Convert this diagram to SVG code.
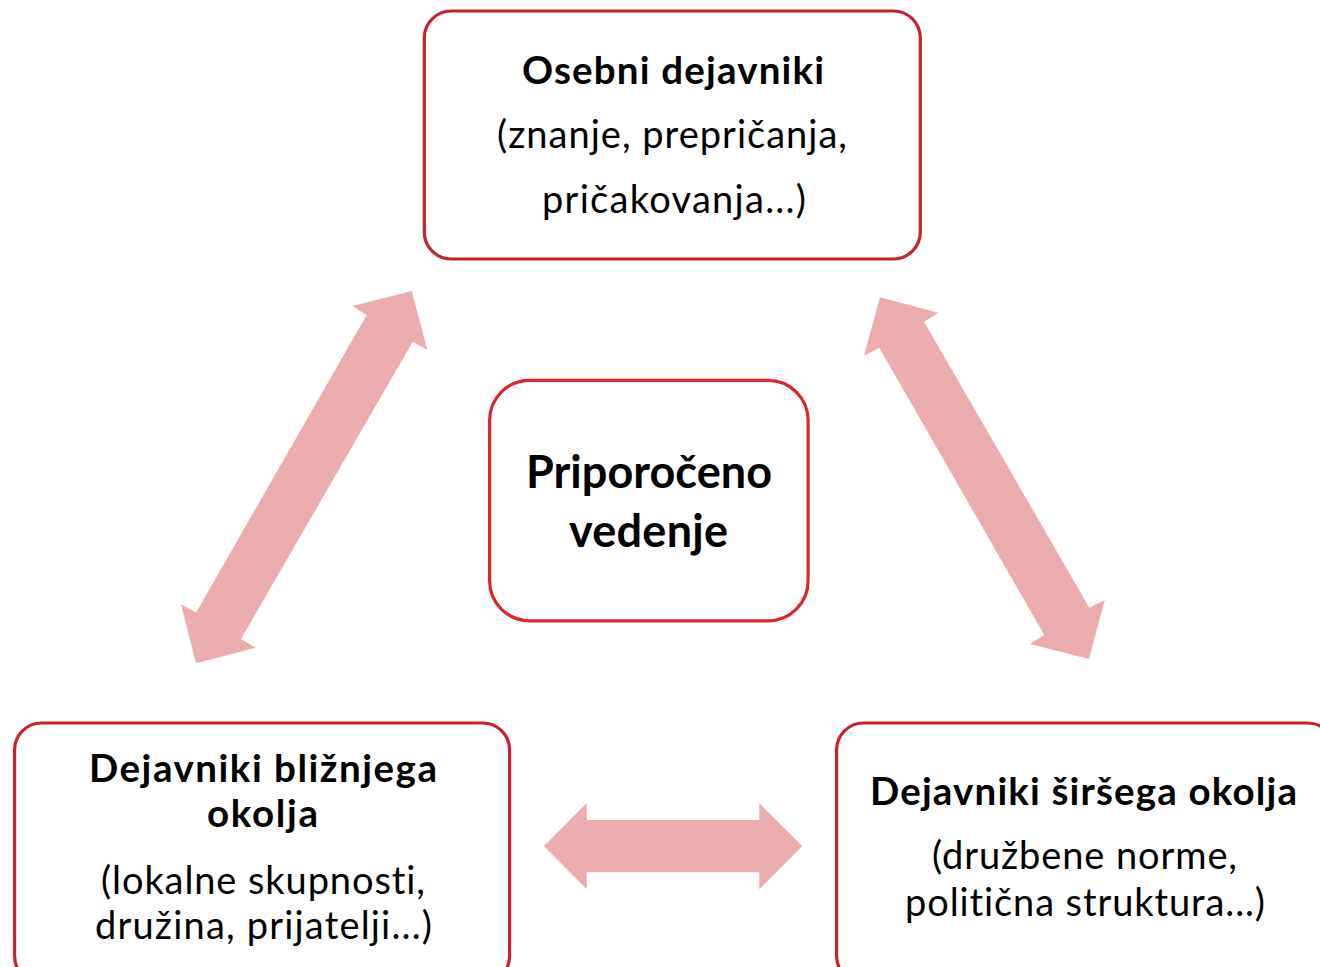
<svg xmlns="http://www.w3.org/2000/svg" width="1320" height="967" viewBox="0 0 1320 967">
<style>
.box{fill:#FFFFFF;stroke:#C8202C;stroke-width:3.2}
.cbox{fill:#FFFFFF;stroke:#DF252C;stroke-width:3.2}
.arr{fill:#EAACAD;stroke:none}
text{font-family:Lato,"Open Sans","Liberation Sans",sans-serif;fill:#000000;text-anchor:middle;font-variant-ligatures:none;font-feature-settings:"liga" 0,"dlig" 0}
.b{font-weight:bold;font-size:38.5px}
.r{font-size:38px}
.c{font-weight:bold;font-size:45px}
</style>
<rect width="1320" height="967" fill="#FFFFFF"/>
<g id="connectors">
<polygon class="arr" points="411.7,291 427.3,350 412.7,341.7 241,639 255.7,647.7 196,663.3 181,604.3 196,612.7 366.7,315 352.7,306"/>
<polygon class="arr" points="880,297.3 938.3,312.7 924,321.7 1089.3,607.7 1104.7,600 1089,659 1030,644 1044.3,635 879.3,347.7 864,355.7"/>
<polygon class="arr" points="544,846 586.7,803.3 586.7,820 759.3,820 759.3,803.3 802.3,846 759.3,889.3 759.3,872.3 586.7,872.3 586.7,889.3"/>
</g>
<g id="node-osebni">
<rect class="box" x="424.3" y="11" width="496" height="248" rx="27"/>
<text class="b" x="673" y="84" textLength="302">Osebni dejavniki</text>
<text class="r" x="672" y="148" textLength="350">(znanje, prepričanja,</text>
<text class="r" x="674" y="213" textLength="264">pričakovanja...)</text>
</g>
<g id="node-priporoceno">
<rect class="cbox" x="489.6" y="380.3" width="318.5" height="240.5" rx="40"/>
<text class="c" x="649" y="488" textLength="246">Priporočeno</text>
<text class="c" x="648.5" y="547" textLength="159">vedenje</text>
</g>
<g id="node-bliznje">
<rect class="box" x="14.6" y="723" width="495" height="260" rx="27"/>
<text class="b" x="263" y="782" textLength="348">Dejavniki bližnjega</text>
<text class="b" x="262.5" y="827" textLength="111">okolja</text>
<text class="r" x="263" y="894" textLength="324">(lokalne skupnosti,</text>
<text class="r" x="263.5" y="939" textLength="337">družina, prijatelji...)</text>
</g>
<g id="node-sirse">
<rect class="box" x="836.6" y="723" width="498" height="260" rx="27"/>
<text class="b" x="1083.5" y="805" textLength="427">Dejavniki širšega okolja</text>
<text class="r" x="1084.5" y="869" textLength="305">(družbene norme,</text>
<text class="r" x="1085" y="916" textLength="360">politična struktura...)</text>
</g>
</svg>
